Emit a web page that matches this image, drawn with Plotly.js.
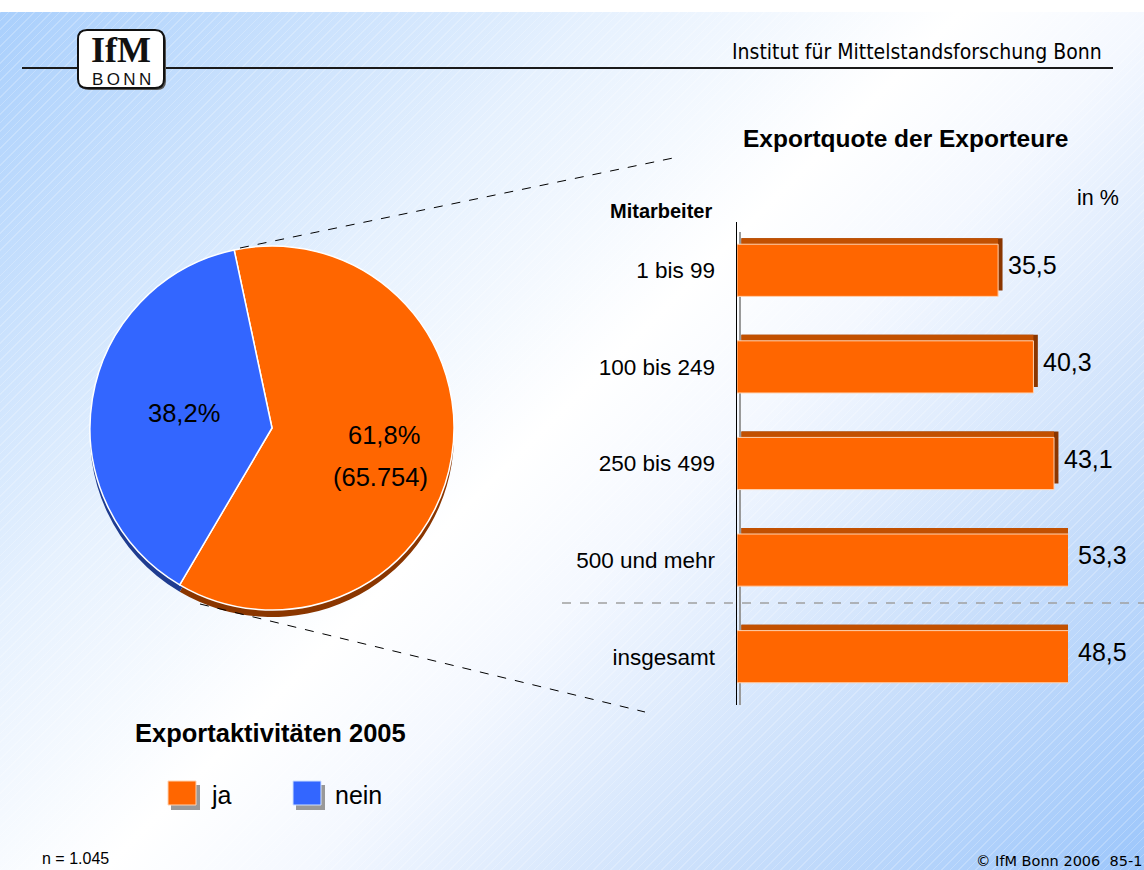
<!DOCTYPE html>
<html>
<head>
<meta charset="utf-8">
<script src="https://cdn.plot.ly/plotly-3.0.1.min.js"></script>
<style>
  html, body { margin: 0; padding: 0; background: #ffffff; }
  #bg {
    position: absolute; left: 0; top: 12px; width: 1144px; height: 858px;
    background:
      repeating-linear-gradient(135deg, rgba(255,255,255,0.22) 0px, rgba(255,255,255,0.22) 1px, rgba(255,255,255,0) 1px, rgba(255,255,255,0) 6px),
      linear-gradient(135deg, #a9cffc 0%, #e6f1fe 30%, #ffffff 48%, #f4f8ff 58%, #c6ddfb 80%, #9cc6fb 100%);
  }
  #chart { position: absolute; left: 0; top: 0; width: 1144px; height: 870px; }
</style>
</head>
<body>
<div id="bg"></div>
<div id="chart"></div>
<script>
// Export activity 2005 (pie) and export ratio of exporters by company size (bars)

const pieLabels = ['ja', 'nein'];
const pieShares = [61.8, 38.2];
const pieColors = ['#FF6600', '#3366FF'];
const pieSideColors = ['#8A3600', '#1F3C90'];
const jaCount = '(65.754)';

const groups = ['1 bis 99', '100 bis 249', '250 bis 499', '500 und mehr', 'insgesamt'];
const exportShares = [35.5, 40.3, 43.1, 53.3, 48.5];
const barColor = '#FF6600';
const barTopColor = '#C25000';
const barSideColor = '#8A3600';

const W = 1144, H = 870;
const px = x => x / W;
const py = y => 1 - y / H;
const deComma = v => v.toFixed(1).replace('.', ',');

const X_MAX = 45;           // the original axis stops here, longer bars get cut
const BAR_W = 0.54;
const FONT = 'Liberation Sans, Arial, sans-serif';

// pie: the darker copy a few pixels lower makes the 3D rim
const pieDomain = { x: [px(90), px(454)], y: [py(610), py(246)] };
const pieSide = {
    type: 'pie', labels: pieLabels, values: pieShares, sort: false,
    direction: 'clockwise', rotation: -12,
    marker: { colors: pieSideColors, line: { color: pieSideColors, width: 0 } },
    domain: { x: pieDomain.x, y: [py(617), py(253)] },
    textinfo: 'none', hoverinfo: 'skip', showlegend: false
};
const pieMain = {
    type: 'pie', labels: pieLabels, values: pieShares, sort: false,
    direction: 'clockwise', rotation: -12,
    marker: { colors: pieColors, line: { color: '#ffffff', width: 1.5 } },
    domain: pieDomain,
    textinfo: 'none', hoverinfo: 'label+percent', showlegend: false
};

// bars: side and top faces drawn behind the front face
const barSide = {
    type: 'bar', orientation: 'h', y: groups, x: exportShares, base: 0.6,
    width: BAR_W, offset: -BAR_W / 2 - 0.062,
    marker: { color: barSideColor }, hoverinfo: 'skip', showlegend: false
};
const barTop = {
    type: 'bar', orientation: 'h', y: groups, x: exportShares.map(v => v - 0.6), base: 0.6,
    width: BAR_W, offset: -BAR_W / 2 - 0.062,
    marker: { color: barTopColor }, hoverinfo: 'skip', showlegend: false
};
const barMain = {
    type: 'bar', orientation: 'h', y: groups, x: exportShares,
    width: BAR_W, offset: -BAR_W / 2,
    marker: { color: barColor, line: { color: '#FFD2B0', width: 1 } },
    hoverinfo: 'y+x', showlegend: false
};

function roundRect(x0, y0, x1, y1, r) {
    const rx = r / W, ry = r / H;
    const a = px(x0), b = px(x1), t = py(y0), u = py(y1);
    return `M ${a + rx} ${t} L ${b - rx} ${t} Q ${b} ${t} ${b} ${t - ry} L ${b} ${u + ry} Q ${b} ${u} ${b - rx} ${u}` +
           ` L ${a + rx} ${u} Q ${a} ${u} ${a} ${u + ry} L ${a} ${t - ry} Q ${a} ${t} ${a + rx} ${t} Z`;
}

function paperLine(x0, y0, x1, y1, color, width, dash) {
    return { type: 'line', xref: 'paper', yref: 'paper', x0: px(x0), y0: py(y0), x1: px(x1), y1: py(y1),
             line: { color, width, dash } };
}

function note(text, x, y, size, opts) {
    return Object.assign({ text, xref: 'paper', yref: 'paper', x: px(x), y: py(y),
        showarrow: false, xanchor: 'center', yanchor: 'middle',
        font: { family: FONT, size, color: '#000' } }, opts || {});
}

const shapes = [
    // header rule and logo
    paperLine(22, 68, 1113, 68, '#1a1a1a', 2),
    { type: 'path', xref: 'paper', yref: 'paper', path: roundRect(80, 32, 166, 90, 9), fillcolor: '#555', line: { width: 0 } },
    { type: 'path', xref: 'paper', yref: 'paper', path: roundRect(78, 30, 164, 88, 9), fillcolor: '#ffffff', line: { color: '#111', width: 2 } },
    // connectors from the pie to the bar block
    paperLine(240, 248, 678, 157, '#000', 1, 'dash'),
    paperLine(200, 604, 645, 712, '#000', 1, 'dash'),
    // axis shadow and separator before the total
    { type: 'line', xref: 'paper', yref: 'paper', x0: px(740), x1: px(740), y0: py(232), y1: py(705),
      line: { color: '#9a9a9a', width: 2 }, layer: 'below' },
    paperLine(562, 603, 1144, 603, '#a0a0a0', 1.3, 'dash'),
    // legend swatches
    { type: 'rect', xref: 'paper', yref: 'paper', x0: px(171), x1: px(200), y0: py(810), y1: py(785), fillcolor: '#999', line: { width: 0 } },
    { type: 'rect', xref: 'paper', yref: 'paper', x0: px(168), x1: px(196), y0: py(805), y1: py(781), fillcolor: pieColors[0], line: { color: '#FFD2B0', width: 1 } },
    { type: 'rect', xref: 'paper', yref: 'paper', x0: px(296), x1: px(325), y0: py(810), y1: py(785), fillcolor: '#999', line: { width: 0 } },
    { type: 'rect', xref: 'paper', yref: 'paper', x0: px(293), x1: px(321), y0: py(805), y1: py(781), fillcolor: pieColors[1], line: { color: '#CFE0FF', width: 1 } }
];

const annotations = [
    note('<b>IfM</b>', 121, 50, 36, { font: { family: 'Liberation Serif, DejaVu Serif, serif', size: 36, color: '#111' } }),
    note('B\u2009O\u2009N\u2009N', 121, 79, 17, { font: { family: FONT, size: 17, color: '#111' } }),
    note('Institut für Mittelstandsforschung Bonn', 1104, 52, 21,
         { xanchor: 'right', font: { family: 'DejaVu Sans Condensed, DejaVu Sans, sans-serif', size: 21, color: '#000' } }),
    note('<b>Exportquote der Exporteure</b>', 905, 138, 24.5),
    note('in %', 1098, 198, 21.5),
    note('<b>Mitarbeiter</b>', 661, 211, 20),
    note('<b>Exportaktivitäten 2005</b>', 270, 733, 25.5),
    note(deComma(pieShares[1]) + '%', 184, 413, 25.5),
    note(deComma(pieShares[0]) + '%', 384, 435, 25.5),
    note(jaCount, 380, 477, 25.5),
    note(pieLabels[0], 209, 795, 25, { xanchor: 'left' }),
    note(pieLabels[1], 333, 795, 25, { xanchor: 'left' }),
    note('n = 1.045', 40, 858, 16, { xanchor: 'left' }),
    note('© IfM Bonn 2006  85-1', 1144, 861, 14.5,
         { xanchor: 'right', font: { family: 'DejaVu Sans, sans-serif', size: 14.5, color: '#000' } })
];

// value labels follow the visible bar end
groups.forEach((g, i) => {
    annotations.push({
        text: deComma(exportShares[i]), xref: 'x', yref: 'y',
        x: Math.min(exportShares[i], X_MAX), y: g,
        xanchor: 'left', yanchor: 'middle', xshift: 8, yshift: 5, showarrow: false,
        font: { family: FONT, size: 25, color: '#000' }
    });
});

const layout = {
    width: W, height: H,
    margin: { l: 0, r: 0, t: 0, b: 0 },
    paper_bgcolor: 'rgba(0,0,0,0)',
    plot_bgcolor: 'rgba(0,0,0,0)',
    barmode: 'overlay',
    showlegend: false,
    xaxis: {
        domain: [px(737), px(1068)], range: [0, X_MAX],
        showgrid: false, zeroline: false, showticklabels: false, showline: false, fixedrange: true
    },
    yaxis: {
        domain: [py(705), py(222)], type: 'category',
        categoryorder: 'array', categoryarray: groups, range: [4.5, -0.5],
        showgrid: false, zeroline: false, showline: true, linecolor: '#000', linewidth: 1.5,
        ticks: '', ticklabelstandoff: 16,
        tickfont: { family: FONT, size: 22.5, color: '#000' }, fixedrange: true
    },
    shapes, annotations
};

Plotly.newPlot('chart', [pieSide, pieMain, barSide, barTop, barMain], layout, { displayModeBar: false, staticPlot: true });
</script>
</body>
</html>
